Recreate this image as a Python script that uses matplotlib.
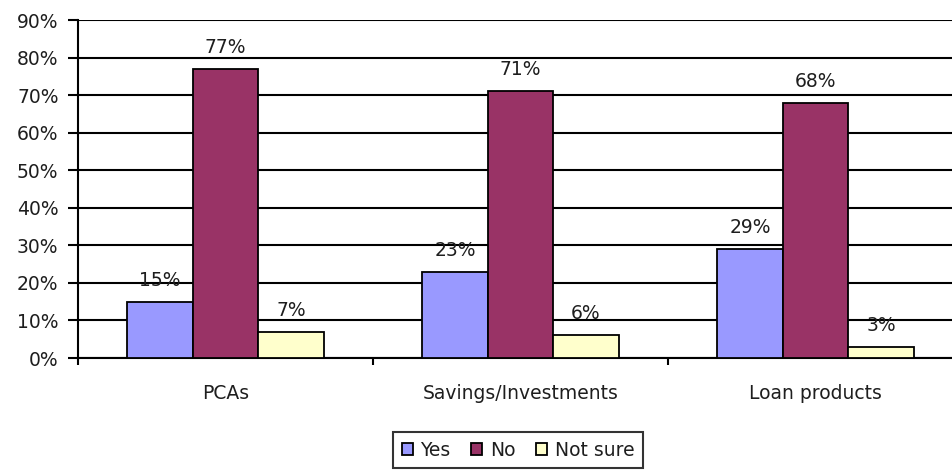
import numpy as np
import matplotlib
matplotlib.use("Agg")
import matplotlib.pyplot as plt
from matplotlib.ticker import FixedLocator, PercentFormatter

plt.rcParams['font.family'] = ['DejaVu Sans']

categories = ["PCAs", "Savings/Investments", "Loan products"]
series_names = ["Yes", "No", "Not sure"]
yes_vals = [15, 23, 29]
no_vals = [77, 71, 68]
not_sure_vals = [7, 6, 3]
colors = ["#9999FF", "#993366", "#FFFFCC"]

FS = 13.5
TXT = "#1e1e1e"

fig = plt.figure(figsize=(9.52, 4.71), dpi=100)
# axes run past the right edge of the figure, as in the original export
ax = fig.add_axes([78 / 952, 1 - 358 / 471, 885 / 952, 338 / 471])

x = np.arange(len(categories))
width = 0.222
for i, (name, vals, col) in enumerate(zip(series_names, [yes_vals, no_vals, not_sure_vals], colors)):
    pos = x + (i - 1) * width
    ax.bar(pos, vals, width, color=col, edgecolor="black", linewidth=1.3, label=name, zorder=3)
    for p, v in zip(pos, vals):
        ax.annotate(f"{v}%", (p, v), xytext=(0, 11.5), textcoords="offset points",
                    ha="center", va="baseline", fontsize=FS, color=TXT, zorder=4)

ax.set_xlim(-0.5, 2.5)
ax.set_ylim(0, 90)
ax.yaxis.set_major_locator(FixedLocator(range(0, 91, 10)))
ax.yaxis.set_major_formatter(PercentFormatter(decimals=0))
ax.grid(axis="y", color="black", linewidth=1.5, zorder=0)

ax.set_xticks(x)
ax.set_xticklabels(categories, fontsize=FS, color=TXT)
ax.xaxis.set_minor_locator(FixedLocator([-0.5, 0.5, 1.5, 2.5]))
ax.tick_params(axis="x", which="major", length=0, pad=19)
ax.tick_params(axis="x", which="minor", length=5, width=1.5, direction="out")
ax.tick_params(axis="y", length=7, width=1.5, direction="out", labelsize=FS,
               labelcolor=TXT, pad=7)

for side in ["top", "right"]:
    ax.spines[side].set_visible(False)
for side in ["left", "bottom"]:
    ax.spines[side].set_linewidth(1.5)

leg = fig.legend(loc="center", bbox_to_anchor=(518 / 952, 1 - 450 / 471), ncol=3,
                 fontsize=FS, frameon=True, fancybox=False, edgecolor="black",
                 handlelength=0.6, handleheight=0.6, handletextpad=0.4,
                 columnspacing=1.1, borderpad=0.45)
leg.get_frame().set_linewidth(1.5)
for t in leg.get_texts():
    t.set_color(TXT)

fig.savefig("out.png", dpi=100)
